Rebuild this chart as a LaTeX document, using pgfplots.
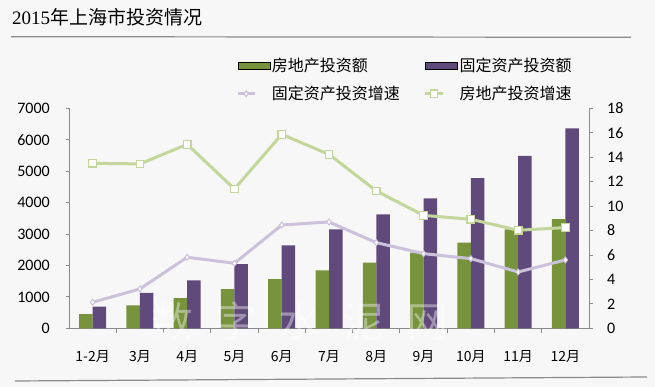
\documentclass[border=0pt]{standalone}
\usepackage{pgfplots}
\pgfplotsset{compat=1.18}
\usepackage{fontspec}
\setmainfont{Carlito}
\newfontfamily\cjk{Noto Sans CJK SC}
\newfontfamily\serifnum{Liberation Serif}
\definecolor{bg}{HTML}{F7F7F7}
\definecolor{barGreen}{HTML}{77933C}
\definecolor{barPurple}{HTML}{604A7B}
\definecolor{lnGreen}{HTML}{C3D69B}
\definecolor{lnPurple}{HTML}{CCC1DA}
\definecolor{axgray}{HTML}{8A8A8A}
\pgfplotsset{
  barleg/.style={legend image code/.code={\fill[##1] (0pt,-3.5pt) rectangle (32pt,3.5pt);}},
  linleg/.style={legend image code/.code={\draw[mark repeat=2,mark phase=2,##1] plot coordinates {(0pt,0pt) (17pt,0pt) (34pt,0pt)};}},
}
\pgfplotstableread{
x  re     fa
0  450    690
1  730    1130
2  960    1525
3  1250   2040
4  1565   2640
5  1845   3150
6  2090   3625
7  2405   4135
8  2725   4775
9  3150   5490
10 3470   6365
}\bars
\pgfplotstableread{
x  reg    fag
0  13.5   2.13
1  13.45  3.22
2  15.05  5.81
3  11.4   5.32
4  15.87  8.45
5  14.23  8.7
6  11.24  7.01
7  9.24   6.11
8  8.92   5.7
9  8.02   4.61
10 8.24   5.59
}\rates
\begin{document}
\begin{tikzpicture}
\fill[bg] (0pt,0pt) rectangle (655pt,387pt);
\node[anchor=base west, inner sep=0pt, font=\fontsize{19}{19}\selectfont] at (12pt,362pt) {\serifnum 2015\cjk 年上海市投资情况};
\draw[axgray, line width=1.2pt] (11pt,350.3pt) -- (631pt,349.7pt);
\draw[axgray, line width=1.2pt] (15pt,6pt) -- (647pt,10pt);
\begin{axis}[
  at={(69pt,58.7pt)}, anchor=south west,
  scale only axis, width=520pt, height=220pt,
  xmin=-0.5, xmax=10.5, ymin=0, ymax=7000,
  axis x line*=bottom, axis y line*=left,
  axis line style={draw=axgray, line width=0.9pt},
  ytick={0,1000,...,7000},
  xtick={0,...,10},
  xticklabels={1-2月,3月,4月,5月,6月,7月,8月,9月,10月,11月,12月},
  minor xtick={0.5,1.5,...,9.5},
  xtick align=inside, ytick align=outside,
  major tick length=3pt, minor tick length=5pt,
  major x tick style={draw=none},
  tick style={draw=axgray, line width=0.9pt},
  minor tick style={draw=axgray, line width=0.9pt},
  x tick label style={font=\cjk\fontsize{14}{14}\selectfont, anchor=base, yshift=-30pt},
  y tick label style={font=\fontsize{16}{16}\selectfont, anchor=east, inner sep=0pt, xshift=-16pt},
  scaled y ticks=false,
  /pgf/number format/assume math mode=true,
  /pgf/number format/1000 sep={},
  ybar=0pt, bar width=13.5pt,
  clip=false,
]
\addplot[fill=barGreen, draw=none] table[x=x, y=re] {\bars};
\addplot[fill=barPurple, draw=none] table[x=x, y=fa] {\bars};
\end{axis}
\begin{axis}[
  at={(69pt,58.7pt)}, anchor=south west,
  scale only axis, width=520pt, height=220pt,
  xmin=-0.5, xmax=10.5, ymin=0, ymax=18,
  axis x line=none, axis y line*=right,
  axis line style={draw=axgray, line width=0.9pt},
  ytick={0,2,...,18},
  ytick align=outside, major tick length=4pt,
  tick style={draw=axgray, line width=0.9pt},
  y tick label style={font=\fontsize{16}{16}\selectfont, anchor=west, inner sep=0pt, xshift=14pt},
  /pgf/number format/assume math mode=true,
  clip=false,
  legend columns=2,
  legend cell align=left,
  legend style={at={(0.3212,1.238)}, anchor=north west, draw=none, fill=none,
    inner sep=0pt, font=\cjk\fontsize{16}{16}\selectfont,
    nodes={inner sep=2pt},
    /tikz/every even column/.append style={column sep=22pt},
    row sep=9pt},
]
\addlegendimage{barleg, fill=barGreen}
\addlegendentry{房地产投资额}
\addlegendimage{barleg, fill=barPurple}
\addlegendentry{固定资产投资额}
\addplot[lnPurple, line width=3pt, mark=diamond*, mark size=3pt, mark options={fill=white, draw=lnPurple, line width=1pt}] table[x=x, y=fag] {\rates};
\addlegendentry{固定资产投资增速}
\addplot[lnGreen, line width=3pt, mark=square*, mark size=3.8pt, mark options={fill=white, draw=lnGreen, line width=1.2pt}] table[x=x, y=reg] {\rates};
\addlegendentry{房地产投资增速}
\end{axis}
\node[anchor=center, text=white, opacity=0.4, font=\cjk\fontsize{42}{42}\selectfont, inner sep=0pt] at (300pt,66pt) {数\hspace{22pt}字\hspace{22pt}水\hspace{22pt}泥\hspace{22pt}网};
\end{tikzpicture}
\end{document}
